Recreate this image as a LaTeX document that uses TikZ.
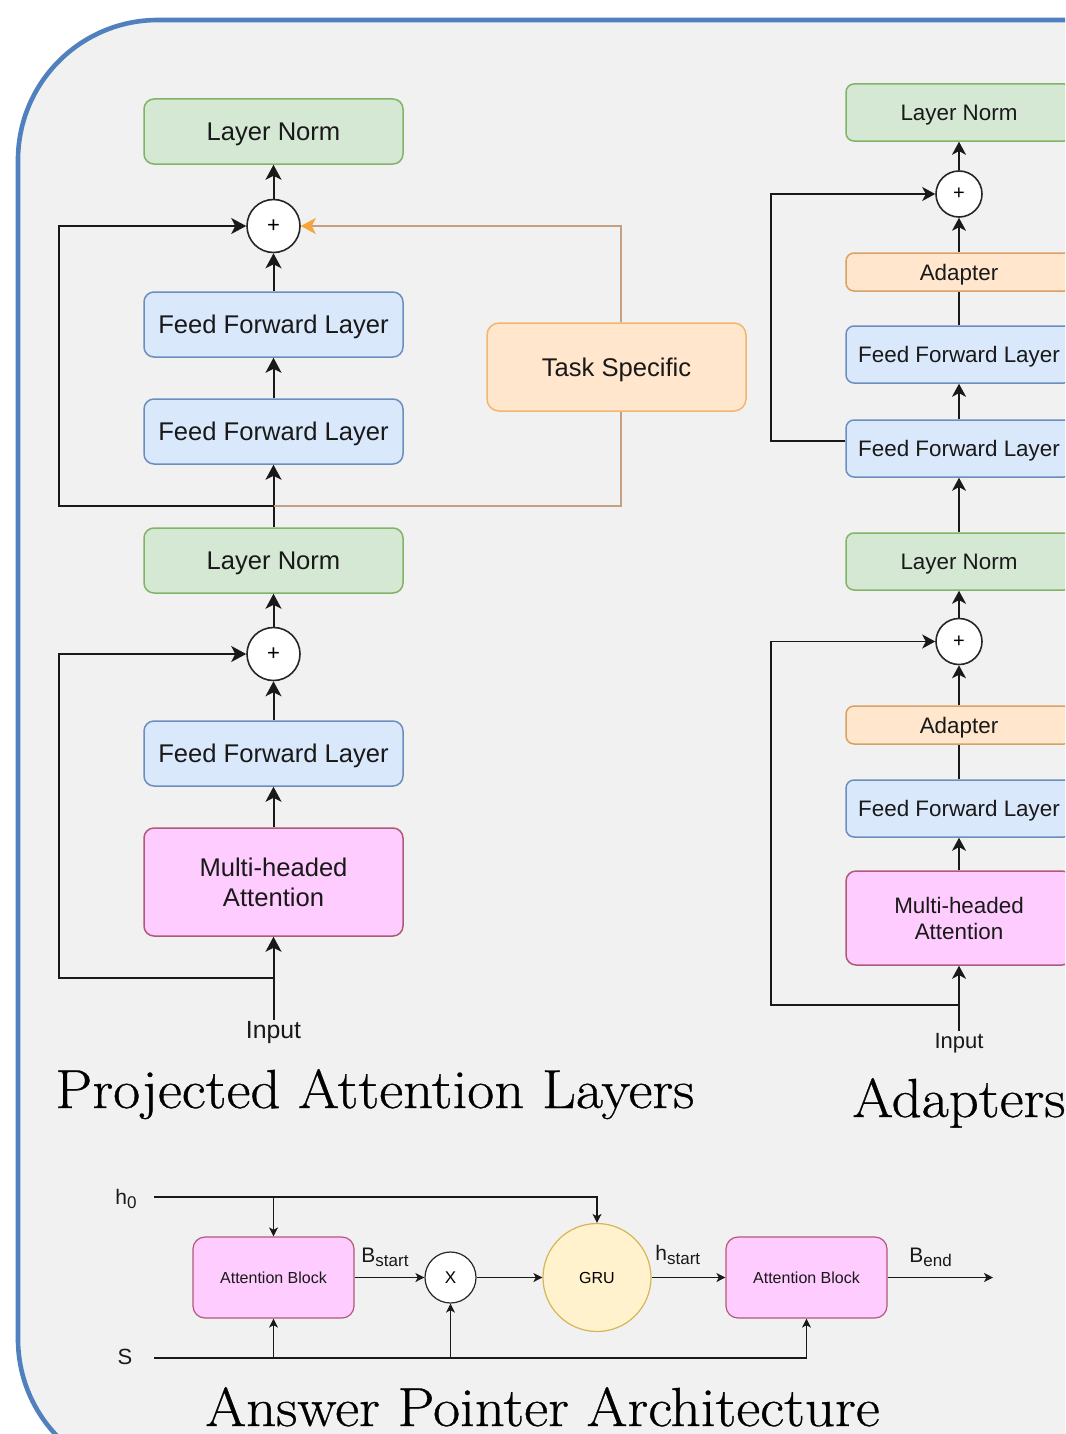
\documentclass[tikz,border=0pt]{standalone}
\usepackage{fontspec}
\newfontfamily\helv{Liberation Sans}
\newfontfamily\ttlfont[FakeBold=0.6,FakeStretch=1.07]{Latin Modern Roman}
\usetikzlibrary{arrows.meta}
\definecolor{bg}{HTML}{F1F1F1}
\definecolor{frameblue}{RGB}{80,128,190}
\definecolor{lnfill}{HTML}{D5E8D4}
\definecolor{lnline}{HTML}{82B366}
\definecolor{fffill}{HTML}{DAE8FC}
\definecolor{ffline}{HTML}{6C8EBF}
\definecolor{adfill}{HTML}{FFE6CC}
\definecolor{adline}{HTML}{D9A066}
\definecolor{tsline}{HTML}{F2B66D}
\definecolor{mhfill}{HTML}{FFCCFF}
\definecolor{mhline}{RGB}{176,90,120}
\definecolor{grufill}{HTML}{FFF2CC}
\definecolor{gruline}{HTML}{D6B656}
\definecolor{tanline}{RGB}{195,160,130}
\definecolor{orangehead}{RGB}{245,165,60}
\definecolor{txt}{RGB}{25,25,25}
\newcommand{\mysub}[2]{#1\raisebox{-2pt}{\fontsize{8.5}{8.5}\selectfont #2}}
\begin{document}
\begin{tikzpicture}[x=0.5pt,y=-0.5pt,
  basebox/.style={draw, rounded corners=5pt, line width=0.75pt, inner sep=0pt, align=center, text=txt, text depth=0pt},
  bigfont/.style={font=\helv\fontsize{12.8}{15}\selectfont},
  smallfont/.style={font=\helv\fontsize{11.2}{13}\selectfont},
  lnL/.style={basebox, bigfont, fill=lnfill, draw=lnline, minimum width=129.5pt, minimum height=32.5pt},
  ffL/.style={basebox, bigfont, fill=fffill, draw=ffline, minimum width=129.5pt, minimum height=32.5pt},
  mhL/.style={basebox, bigfont, fill=mhfill, draw=mhline, minimum width=129.5pt, minimum height=54pt},
  tsbox/.style={basebox, bigfont, fill=adfill, draw=tsline, rounded corners=6pt, minimum width=129.5pt, minimum height=44pt},
  lnR/.style={basebox, smallfont, rounded corners=4pt, fill=lnfill, draw=lnline, minimum width=113pt, minimum height=28.5pt},
  ffR/.style={basebox, smallfont, rounded corners=4pt, fill=fffill, draw=ffline, minimum width=113pt, minimum height=28.5pt},
  adR/.style={basebox, smallfont, rounded corners=4pt, fill=adfill, draw=adline, minimum width=113pt, minimum height=19pt},
  mhR/.style={basebox, font=\helv\fontsize{11.2}{13}\selectfont, rounded corners=5pt, fill=mhfill, draw=mhline, minimum width=113pt, minimum height=47pt},
  plusL/.style={circle, draw=black!85, fill=white, line width=0.8pt, inner sep=0pt, minimum size=26.5pt, font=\helv\fontsize{11}{11}\selectfont},
  plusR/.style={circle, draw=black!85, fill=white, line width=0.8pt, inner sep=0pt, minimum size=23pt, font=\helv\fontsize{10}{10}\selectfont},
  lbl/.style={inner sep=1pt, text=txt},
  arr/.style={line width=1pt, draw=black!90, -{Stealth[length=7.5pt,width=8pt,inset=2pt]}},
  arrR/.style={line width=0.9pt, draw=black!90, -{Stealth[length=6.5pt,width=7pt,inset=1.8pt]}},
  lnRs/.style={line width=0.9pt, draw=black!90},
  abox/.style={draw=mhline, fill=mhfill, rounded corners=6pt, line width=0.6pt, inner sep=0pt, minimum width=80.5pt, minimum height=40.5pt, font=\helv\fontsize{8}{9}\selectfont, text=txt},
  arrA/.style={line width=0.65pt, draw=black!90, -{Stealth[length=4.5pt,width=4.5pt,inset=1.2pt]}},
  title/.style={anchor=base west, inner sep=0pt, font=\ttlfont\fontsize{27.5}{30}\selectfont}
]
\fill[white] (0,0) rectangle (1065,1434);
\clip (0,0) rectangle (1065,1434);
\draw[line width=2.3pt, draw=frameblue, fill=bg, rounded corners=70pt] (18,20) rectangle (1400,1479);

% ---------------- Projected Attention Layers ----------------
\node[lnL] (Lln1) at (273.5,131.5) {Layer Norm};
\node[plusL] (Lp1) at (273.5,226) {+};
\node[ffL] (Lff1) at (273.5,324.5) {Feed Forward Layer};
\node[ffL] (Lff2) at (273.5,431.5) {Feed Forward Layer};
\node[tsbox] (Lts) at (616.5,367) {Task Specific};
\node[lnL] (Lln2) at (273.5,560.5) {Layer Norm};
\node[plusL] (Lp2) at (273.5,654) {+};
\node[ffL] (Lff3) at (273.5,753.5) {Feed Forward Layer};
\node[mhL] (Lmh) at (273.5,882) {Multi-headed\\Attention};
\node[lbl, font=\helv\fontsize{12.4}{14}\selectfont] (Lin) at (273.5,1033) {Input};

\coordinate (Lj1) at (273.5,506);
\coordinate (Lj2) at (273.5,978);
\coordinate (Lk1) at (59,506);
\coordinate (Lk2) at (59,978);

\draw[arr] (Lin.north) -- (Lmh.south);
\draw[arr] (Lmh.north) -- (Lff3.south);
\draw[arr] (Lff3.north) -- (Lp2.south);
\draw[arr] (Lp2.north) -- (Lln2.south);
\draw[arr] (Lln2.north) -- (Lff2.south);
\draw[arr] (Lff2.north) -- (Lff1.south);
\draw[arr] (Lff1.north) -- (Lp1.south);
\draw[arr] (Lp1.north) -- (Lln1.south);
\draw[arr] (Lj2) -- (Lk2) |- (Lp2.west);
\draw[arr] (Lj1) -- (Lk1) |- (Lp1.west);
\draw[line width=1pt, draw=tanline] (Lj1) -| ([xshift=2.25pt]Lts.south);
\draw[line width=1pt, draw=tanline, -{Stealth[length=7.5pt,width=8pt,inset=2pt,color=orangehead]}] ([xshift=2.25pt]Lts.north) |- (Lp1.east);

\node[title] (Ltitle) at (55,1108) {Projected Attention Layers};

% ---------------- Adapters ----------------
\node[lnR] (Rln1) at (959,112.5) {Layer Norm};
\node[plusR] (Rp1) at (959,194) {+};
\node[adR] (Rad1) at (959,272) {Adapter};
\node[ffR] (Rff1) at (959,354.5) {Feed Forward Layer};
\node[ffR] (Rff2) at (959,448.5) {Feed Forward Layer};
\node[lnR] (Rln2) at (959,561.5) {Layer Norm};
\node[plusR] (Rp2) at (959,641.5) {+};
\node[adR] (Rad2) at (959,725) {Adapter};
\node[ffR] (Rff3) at (959,808.5) {Feed Forward Layer};
\node[mhR] (Rmh) at (959,918) {Multi-headed\\Attention};
\node[lbl, font=\helv\fontsize{11}{13}\selectfont] (Rin) at (959,1043) {Input};

\coordinate (Rj1) at ([yshift=3.75pt]Rff2.west);
\coordinate (Rk1) at (771,441);
\coordinate (Rj2) at (959,1005);
\coordinate (Rk2) at (771,1005);

\draw[arrR] (Rin.north) -- (Rmh.south);
\draw[arrR] (Rmh.north) -- (Rff3.south);
\draw[lnRs] (Rff3.north) -- (Rad2.south);
\draw[arrR] (Rad2.north) -- (Rp2.south);
\draw[arrR] (Rp2.north) -- (Rln2.south);
\draw[arrR] (Rln2.north) -- (Rff2.south);
\draw[arrR] (Rff2.north) -- (Rff1.south);
\draw[lnRs] (Rff1.north) -- (Rad1.south);
\draw[arrR] (Rad1.north) -- (Rp1.south);
\draw[arrR] (Rp1.north) -- (Rln1.south);
\draw[arrR] (Rj2) -- (Rk2) |- (Rp2.west);
\draw[arrR] (Rj1) -- (Rk1) |- (Rp1.west);

\node[title] (Rtitle) at (852,1117) {Adapters};

% ---------------- Answer Pointer ----------------
\node[abox] (Aab1) at (273.5,1277.5) {Attention Block};
\node[circle, draw=black!85, fill=white, line width=0.6pt, minimum size=25.5pt, inner sep=0pt, font=\helv\fontsize{8.5}{9}\selectfont] (Ax) at (450.5,1277.5) {X};
\node[circle, draw=gruline, fill=grufill, line width=0.6pt, minimum size=54pt, inner sep=0pt, font=\helv\fontsize{8}{9}\selectfont] (Agru) at (597,1277.5) {GRU};
\node[abox] (Aab2) at (806.5,1277.5) {Attention Block};

\node[lbl, font=\helv\fontsize{10.5}{12}\selectfont] (Ah0) at (126,1199) {\mysub{h}{0}};
\node[lbl, font=\helv\fontsize{11}{12}\selectfont] (As) at (125,1357) {S};

\coordinate (Ah0s) at (154,1197);
\coordinate (Ah0b) at (273.5,1197);
\coordinate (Ass) at (154,1358);
\coordinate (Asa) at (273.5,1358);
\coordinate (Asx) at (450.5,1358);
\coordinate (Aout) at (993,1277.5);

\draw[arrA] (Ah0s) -| (Agru.north);
\draw[arrA] (Ah0b) -- (Aab1.north);
\draw[arrA] (Ass) -| (Aab2.south);
\draw[arrA] (Asa) -- (Aab1.south);
\draw[arrA] (Asx) -- (Ax.south);
\draw[arrA] (Aab1.east) -- (Ax.west);
\draw[arrA] (Ax.east) -- (Agru.west);
\draw[arrA] (Agru.east) -- (Aab2.west);
\draw[arrA] (Aab2.east) -- (Aout);

\node[lbl, anchor=base west, inner sep=0pt, font=\helv\fontsize{10.5}{12}\selectfont] (Abs) at (361,1262) {\mysub{B}{start}};
\node[lbl, anchor=base west, inner sep=0pt, font=\helv\fontsize{10.5}{12}\selectfont] (Ahs) at (655,1260) {\mysub{h}{start}};
\node[lbl, anchor=base west, inner sep=0pt, font=\helv\fontsize{10.5}{12}\selectfont] (Abe) at (909,1262) {\mysub{B}{end}};

\node[title] (Atitle) at (205,1426) {Answer Pointer Architecture};
\end{tikzpicture}
\end{document}
